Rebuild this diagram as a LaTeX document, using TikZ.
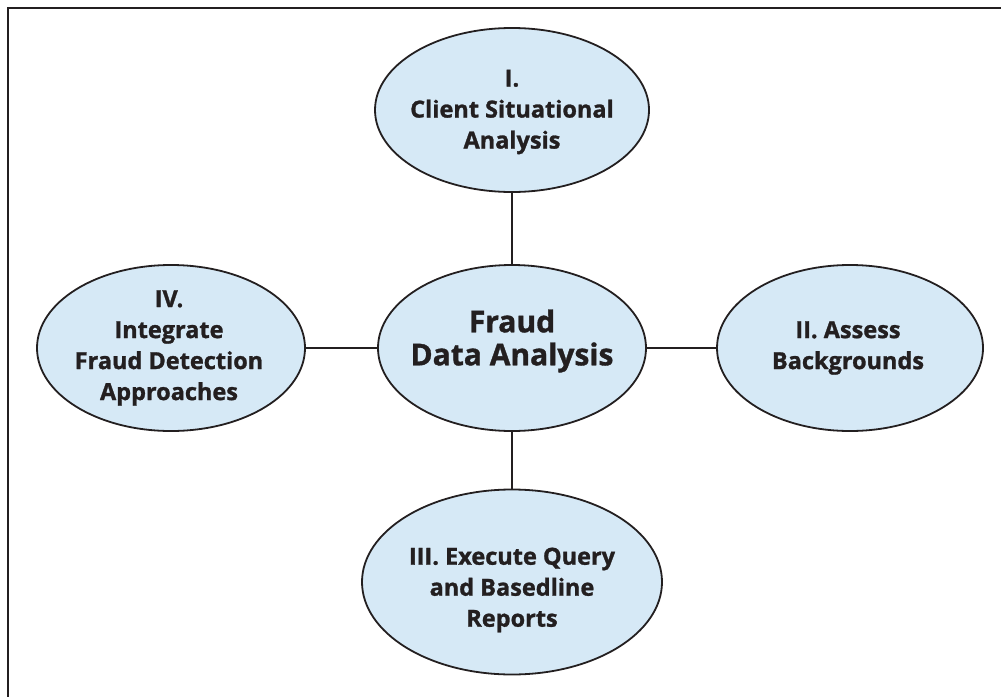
\documentclass[tikz,border=0pt]{standalone}
\usepackage{fontspec}
\setmainfont{Open Sans}[BoldFeatures={FakeBold=1.2}]
\usetikzlibrary{shapes.geometric}
\definecolor{ellfill}{RGB}{214,233,246}
\definecolor{framecol}{RGB}{35,31,32}
\begin{document}
\begin{tikzpicture}[x=1pt,y=-1pt,
  bubble/.style={ellipse, draw=framecol, line width=1.8pt, fill=ellfill, inner sep=0pt},
  btext/.style={align=center, inner sep=0pt, text=framecol, font=\bfseries\fontsize{23.5}{31}\selectfont},
  bigtext/.style={align=center, inner sep=0pt, text=framecol, font=\bfseries\fontsize{30}{33}\selectfont},
  link/.style={draw=framecol, line width=1.5pt}]
\useasboundingbox (0,0) rectangle (1001,696);
\draw[framecol, line width=2.6pt] (8,702) -- (8,8) -- (1007,8);
% ellipses
\node[bubble, minimum width=274pt, minimum height=164pt] (top) at (512,110) {};
\node[bubble, minimum width=268pt, minimum height=166pt] (ctr) at (512,348) {};
\node[bubble, minimum width=300pt, minimum height=185pt] (bot) at (512,582) {};
\node[bubble, minimum width=268pt, minimum height=166pt] (lft) at (171,348) {};
\node[bubble, minimum width=266pt, minimum height=166pt] (rgt) at (850,348) {};
% texts
\node[btext] (topT) at (512,112) {I.\\Client Situational\\Analysis};
\node[bigtext] (ctrT) at (512,341) {Fraud\\Data Analysis};
\node[btext] (botT) at (512,590) {III. Execute Query\\and Basedline\\Reports};
\node[btext] (lftT) at (169,348) {IV.\\Integrate\\Fraud Detection\\Approaches};
\node[btext] (rgtT) at (848,348) {II. Assess\\Backgrounds};
% connectors
\draw[link] (top.south) -- (ctr.north);
\draw[link] (ctr.south) -- (bot.north);
\draw[link] (lft.east) -- (ctr.west);
\draw[link] (ctr.east) -- (rgt.west);
\end{tikzpicture}
\end{document}
